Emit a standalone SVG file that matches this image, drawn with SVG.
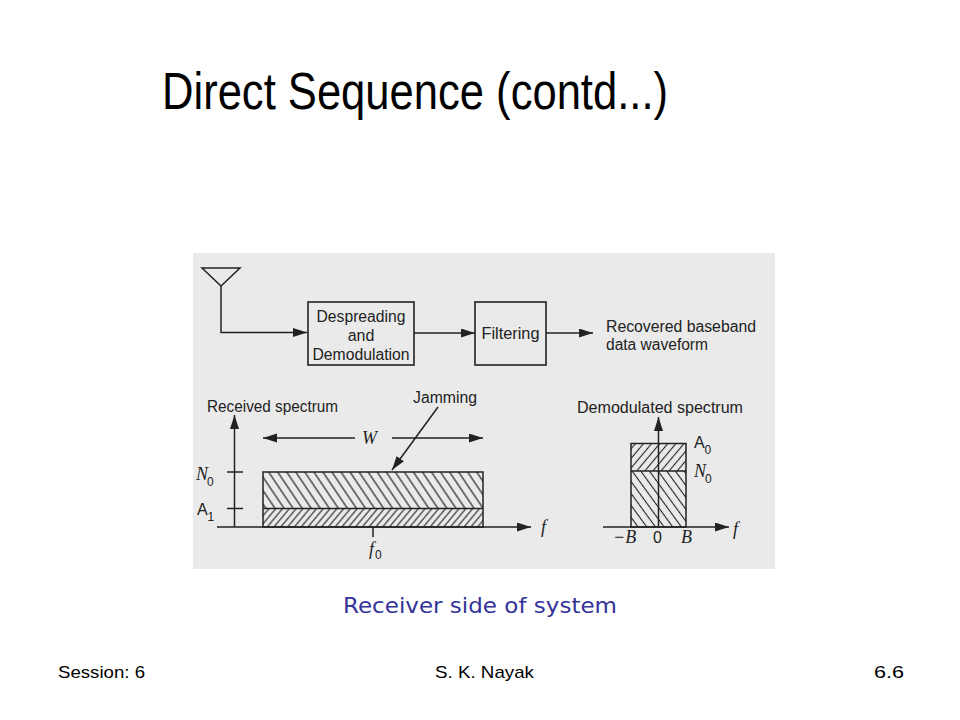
<svg xmlns="http://www.w3.org/2000/svg" width="960" height="720" viewBox="0 0 960 720">
<style>
.ln{stroke:#222;stroke-width:1.5;fill:none}
.bx{stroke:#222;stroke-width:1.6;fill:none}
.t{font-family:"Liberation Sans",Arial,sans-serif;font-size:16px;fill:#222}
.tc{text-anchor:middle}
.it{font-family:"Liberation Serif","Times New Roman",serif;font-style:italic;font-size:18px;fill:#222}
.sub{font-family:"Liberation Sans",Arial,sans-serif;font-size:12px;fill:#222}
.slide{font-family:"Liberation Sans",Arial,sans-serif;fill:#000}
</style>
<defs>
<marker id="ah" markerUnits="userSpaceOnUse" markerWidth="15" markerHeight="10" refX="14" refY="4.5" orient="auto">
<path d="M0,0 L14,4.5 L0,9 z" fill="#222"/>
</marker>
<pattern id="hBack" patternUnits="userSpaceOnUse" width="7.5" height="20" patternTransform="rotate(-34)">
<line x1="3.75" y1="-2" x2="3.75" y2="22" stroke="#222" stroke-width="1.2"/>
</pattern>
<pattern id="hFwd" patternUnits="userSpaceOnUse" width="5.2" height="20" patternTransform="rotate(40)">
<line x1="2.6" y1="-2" x2="2.6" y2="22" stroke="#222" stroke-width="1.1"/>
</pattern>
<pattern id="hFwd2" patternUnits="userSpaceOnUse" width="6.2" height="20" patternTransform="rotate(40)">
<line x1="3.1" y1="-2" x2="3.1" y2="22" stroke="#222" stroke-width="1.1"/>
</pattern>
<pattern id="hBack2" patternUnits="userSpaceOnUse" width="7" height="20" patternTransform="rotate(-36)">
<line x1="3.5" y1="-2" x2="3.5" y2="22" stroke="#222" stroke-width="1.1"/>
</pattern>
</defs>
<rect width="960" height="720" fill="#fff"/>
<text class="slide" x="162" y="109" font-size="52" textLength="506" lengthAdjust="spacingAndGlyphs">Direct Sequence (contd...)</text>
<rect id="figure" x="193" y="253" width="582" height="316" fill="#eaeaea"/>
<g id="antenna">
<path class="ln" d="M202,268 L240,268 L221,286 Z"/>
</g>
<g id="despreading">
<rect class="bx" x="308" y="302" width="106" height="63"/>
<text class="t tc" x="361" y="322" textLength="89" lengthAdjust="spacingAndGlyphs">Despreading</text>
<text class="t tc" x="361" y="341">and</text>
<text class="t tc" x="361" y="360" textLength="97" lengthAdjust="spacingAndGlyphs">Demodulation</text>
</g>
<g id="filtering">
<rect class="bx" x="475" y="302" width="71" height="63"/>
<text class="t tc" x="510.5" y="339" textLength="58" lengthAdjust="spacingAndGlyphs">Filtering</text>
</g>
<g id="output">
<text class="t" x="606" y="332" textLength="150" lengthAdjust="spacingAndGlyphs">Recovered  baseband</text>
<text class="t" x="606" y="350" textLength="102" lengthAdjust="spacingAndGlyphs">data waveform</text>
</g>
<g id="connectors">
<path class="ln" d="M221,286 V332.5 H307" marker-end="url(#ah)"/>
<path class="ln" d="M414,333 H475" marker-end="url(#ah)"/>
<path class="ln" d="M546,333 H593" marker-end="url(#ah)"/>
</g>
<g id="received-spectrum">
<text class="t" x="207" y="412" textLength="131" lengthAdjust="spacingAndGlyphs">Received  spectrum</text>
<text class="t" x="413" y="403" textLength="64" lengthAdjust="spacingAndGlyphs">Jamming</text>
<rect x="263" y="472" width="220" height="36.5" fill="url(#hBack)"/>
<rect x="263" y="508.5" width="220" height="18.5" fill="url(#hFwd)"/>
<rect class="ln" x="263" y="472" width="220" height="55"/>
<line class="ln" x1="263" y1="508.5" x2="483" y2="508.5"/>
<path class="ln" d="M234.5,527 V415" marker-end="url(#ah)"/>
<path class="ln" d="M217,527 H531" marker-end="url(#ah)"/>
<line class="ln" x1="227" y1="472" x2="243" y2="472"/>
<line class="ln" x1="227" y1="508.5" x2="243" y2="508.5"/>
<line class="ln" x1="373" y1="527" x2="373" y2="537"/>
<path class="ln" d="M355,438 H263" marker-end="url(#ah)"/>
<path class="ln" d="M392,438 H483" marker-end="url(#ah)"/>
<path class="ln" d="M438,407 L392,470" marker-end="url(#ah)"/>
<text class="it" x="362" y="444">W</text>
<text class="it" x="196" y="480">N</text><text class="sub" x="207" y="486">0</text>
<text class="t" x="197" y="515">A</text><text class="sub" x="207.5" y="521">1</text>
<text class="it" x="369" y="555">f</text><text class="sub" x="375" y="559">0</text>
<text class="it" x="541" y="533">f</text>
</g>
<g id="demodulated-spectrum">
<text class="t" x="577" y="413" textLength="166" lengthAdjust="spacingAndGlyphs">Demodulated  spectrum</text>
<rect x="631" y="443.5" width="55" height="27.5" fill="url(#hFwd2)"/>
<rect x="631" y="471" width="55" height="56" fill="url(#hBack2)"/>
<rect class="ln" x="631" y="443.5" width="55" height="83.5"/>
<line class="ln" x1="631" y1="471" x2="686" y2="471"/>
<path class="ln" d="M658.5,527 V417" marker-end="url(#ah)"/>
<path class="ln" d="M603,527 H729" marker-end="url(#ah)"/>
<text class="t" x="694" y="448">A</text><text class="sub" x="704.5" y="454">0</text>
<text class="it" x="694" y="477">N</text><text class="sub" x="705" y="483">0</text>
<text class="it" x="733" y="535">f</text>
<text class="it" x="613" y="543">−B</text>
<text class="t" x="653" y="543">0</text>
<text class="it" x="681" y="543">B</text>
</g>
<text x="343" y="613" font-family="'DejaVu Sans',Verdana,sans-serif" font-size="22" fill="#333399" textLength="274" lengthAdjust="spacingAndGlyphs">Receiver side of system</text>
<g id="footer">
<text class="slide" x="58" y="678" font-size="17" textLength="87" lengthAdjust="spacingAndGlyphs">Session: 6</text>
<text class="slide" x="435" y="678" font-size="17" textLength="99" lengthAdjust="spacingAndGlyphs">S. K. Nayak</text>
<text class="slide" x="874" y="678" font-size="17" textLength="30" lengthAdjust="spacingAndGlyphs">6.6</text>
</g>
</svg>
